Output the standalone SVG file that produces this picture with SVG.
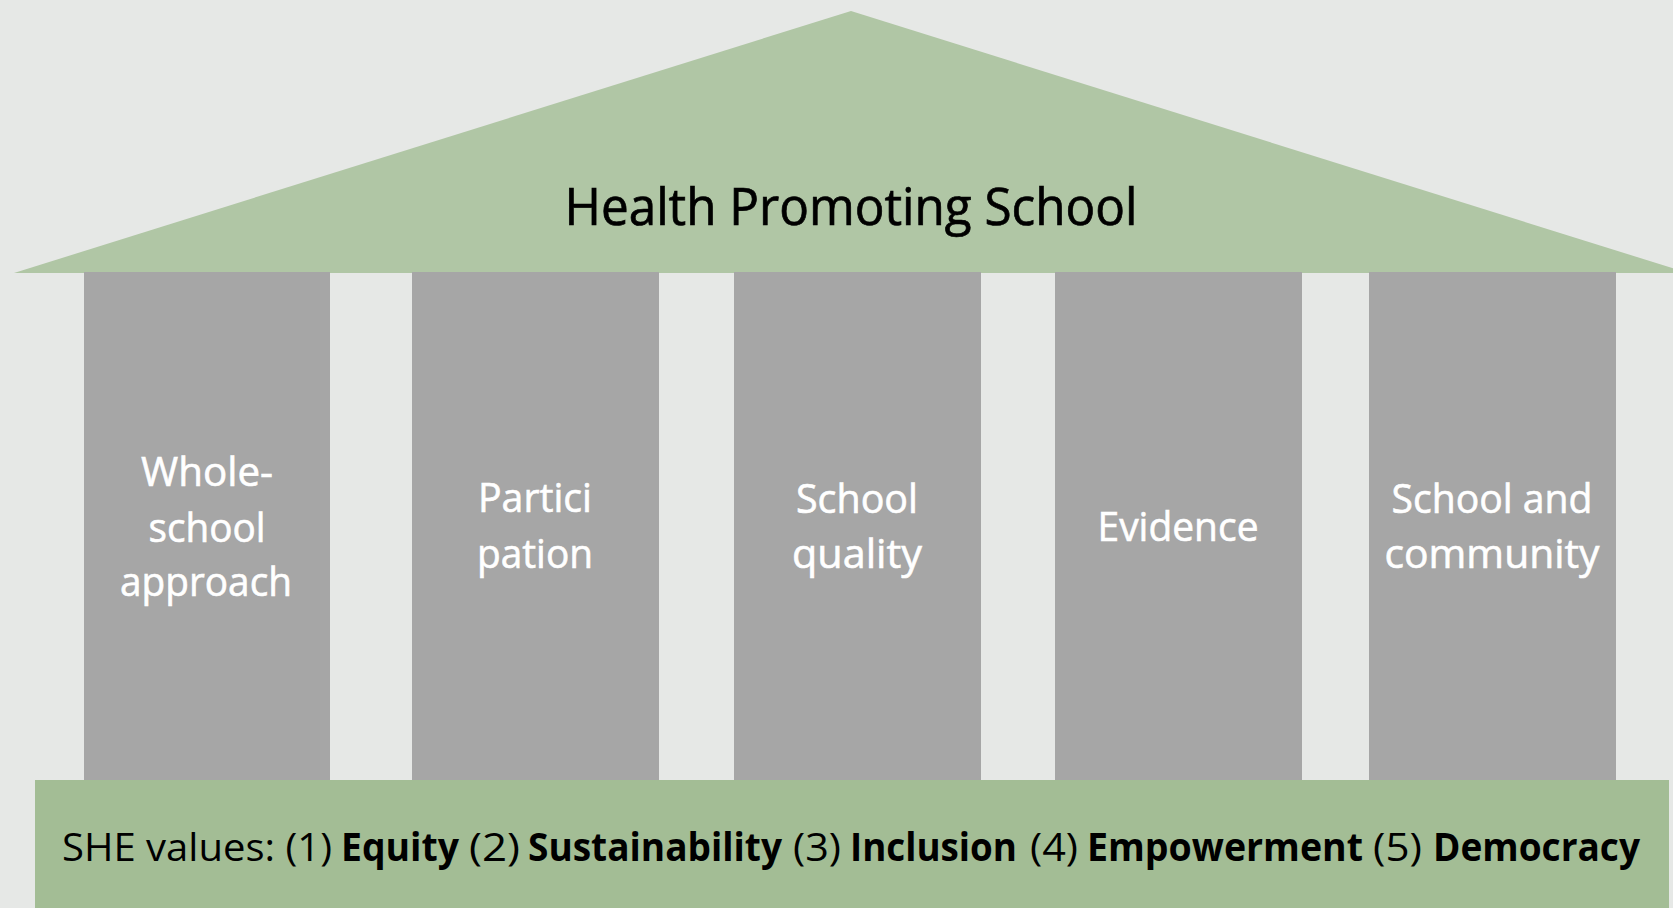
<svg xmlns="http://www.w3.org/2000/svg" width="1673" height="908" viewBox="0 0 1673 908">
<style>
.col{fill:#a6a6a6}
.ct{font-family:"Open Sans","Noto Sans",sans-serif;font-size:41px;font-weight:500;fill:#ffffff;stroke:#ffffff;stroke-width:0.6;text-anchor:middle}
.title{font-family:"Open Sans","Noto Sans",sans-serif;font-size:51px;font-weight:500;fill:#000000;stroke:#000000;stroke-width:0.7;text-anchor:middle}
.base{font-family:"Open Sans","Noto Sans",sans-serif;font-size:39px;fill:#000000}
.b{font-weight:bold}
</style>
<rect x="0" y="0" width="1673" height="908" fill="#e6e8e6"/>
<g id="roof">
<polygon points="14,273 851,11 1688,273" fill="#b0c6a5"/>
<text class="title" x="851" y="225" textLength="573" lengthAdjust="spacingAndGlyphs">Health Promoting School</text>
</g>
<g id="connectors"></g>
<g id="pillar1">
<rect class="col" x="84" y="272" width="246" height="508"/>
<text class="ct" x="207" y="486" textLength="132" lengthAdjust="spacingAndGlyphs">Whole-</text>
<text class="ct" x="207" y="542" textLength="117" lengthAdjust="spacingAndGlyphs">school</text>
<text class="ct" x="206" y="596" textLength="172" lengthAdjust="spacingAndGlyphs">approach</text>
</g>
<g id="pillar2">
<rect class="col" x="412" y="272" width="247" height="508"/>
<text class="ct" x="535" y="512" textLength="114" lengthAdjust="spacingAndGlyphs">Partici</text>
<text class="ct" x="535" y="568" textLength="116" lengthAdjust="spacingAndGlyphs">pation</text>
</g>
<g id="pillar3">
<rect class="col" x="734" y="272" width="247" height="508"/>
<text class="ct" x="857" y="513" textLength="122" lengthAdjust="spacingAndGlyphs">School</text>
<text class="ct" x="857" y="568" textLength="130" lengthAdjust="spacingAndGlyphs">quality</text>
</g>
<g id="pillar4">
<rect class="col" x="1055" y="272" width="247" height="508"/>
<text class="ct" x="1178" y="541" textLength="161" lengthAdjust="spacingAndGlyphs">Evidence</text>
</g>
<g id="pillar5">
<rect class="col" x="1369" y="272" width="247" height="508"/>
<text class="ct" x="1492" y="513" textLength="201" lengthAdjust="spacingAndGlyphs">School and</text>
<text class="ct" x="1492" y="568" textLength="215" lengthAdjust="spacingAndGlyphs">community</text>
</g>
<g id="foundation">
<rect x="35" y="780" width="1634" height="128" fill="#a3bd95"/>
<text class="base" y="861"><tspan x="62" textLength="270" lengthAdjust="spacingAndGlyphs">SHE values: (1)</tspan><tspan class="b" x="341" textLength="118" lengthAdjust="spacingAndGlyphs">Equity</tspan><tspan x="469" textLength="51" lengthAdjust="spacingAndGlyphs">(2)</tspan><tspan class="b" x="528" textLength="254" lengthAdjust="spacingAndGlyphs">Sustainability</tspan><tspan x="793" textLength="48" lengthAdjust="spacingAndGlyphs">(3)</tspan><tspan class="b" x="850" textLength="167" lengthAdjust="spacingAndGlyphs">Inclusion</tspan><tspan x="1030" textLength="48" lengthAdjust="spacingAndGlyphs">(4)</tspan><tspan class="b" x="1087" textLength="276" lengthAdjust="spacingAndGlyphs">Empowerment</tspan><tspan x="1373" textLength="49" lengthAdjust="spacingAndGlyphs">(5)</tspan><tspan class="b" x="1433" textLength="207" lengthAdjust="spacingAndGlyphs">Democracy</tspan></text>
</g>
</svg>
